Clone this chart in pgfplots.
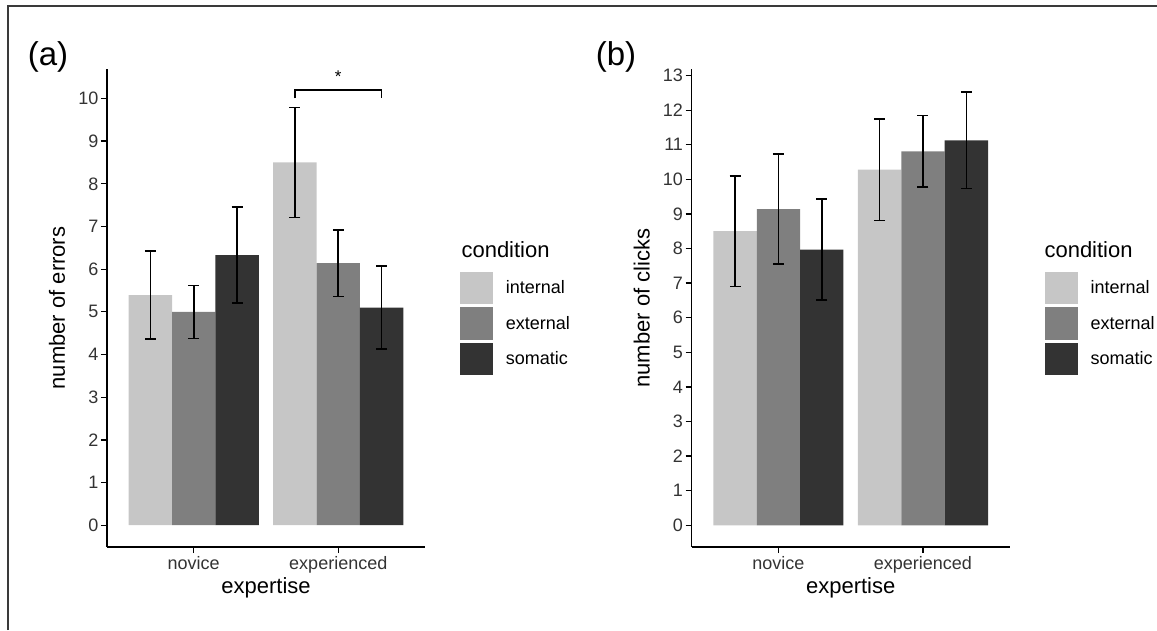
\documentclass[border=0pt]{standalone}
\usepackage{fontspec}
\setmainfont{Liberation Sans}
\usepackage{pgfplots}
\pgfplotsset{compat=1.18}
\definecolor{cInt}{HTML}{C6C6C6}
\definecolor{cExt}{HTML}{7F7F7F}
\definecolor{cSom}{HTML}{333333}
\definecolor{tickgray}{HTML}{333333}
\definecolor{framegray}{HTML}{3A3A3A}

\pgfplotsset{
 sq/.style={legend image code/.code={\fill[##1] (0pt,-16.2pt) rectangle (32.6pt,16.2pt);}},
 panel/.style={
   scale only axis, width=318pt, height=478pt, anchor=south west,
   ybar=0pt, bar width=0.3,
   xmin=0.4, xmax=2.6, xtick={1,2}, xticklabels={novice,experienced},
   axis x line*=bottom, axis y line*=left,
   axis line style={-, line width=1.3pt, black},
   tick align=outside, major tick length=6pt,
   tick style={line width=1.3pt, black},
   minor tick num=0,
   ticklabel style={font=\fontsize{18}{18}\selectfont, text=tickgray},
   yticklabel style={inner sep=2.5pt},
   xticklabel style={inner sep=3pt},
   /pgf/number format/assume math mode=true,
   label style={font=\fontsize{22}{22}\selectfont},
   xlabel={expertise},
   xlabel style={at={(axis description cs:0.5,-0.0858)}, anchor=center},
   ylabel style={at={(axis description cs:-0.157,0.5)}, anchor=center},
   clip=false,
   legend style={at={(axis description cs:1.111,0.576)}, anchor=north west,
     draw=none, fill=none, inner sep=0pt, row sep=3pt,
     font=\fontsize{18}{18}\selectfont, nodes={inner sep=0pt},
     /tikz/every odd column/.append style={column sep=12.7pt}},
   legend cell align=left,
   every axis plot/.append style={draw=none, sq,
     error bars/y dir=both, error bars/y explicit,
     error bars/error mark=|,
     error bars/error bar style={draw=black, line width=1.6pt},
     error bars/error mark options={draw=black, line width=1.6pt, mark size=5.5pt}},
 },
}

\begin{document}
\begin{tikzpicture}[x=1pt,y=1pt]
\path[use as bounding box] (0,0) rectangle (1157,630);
\draw[framegray, line width=2pt] (8,0) -- (8,624) -- (1157,624);
\node[font=\fontsize{33}{33}\selectfont] at (48,573) {(a)};
\node[font=\fontsize{33}{33}\selectfont] at (616,573) {(b)};

\begin{axis}[panel, at={(107pt,83pt)}, ymin=-0.51, ymax=10.69, ytick={0,...,10},
  ylabel={number of errors}]
\addplot[fill=cInt] coordinates {(1,5.39) +- (0,1.03) (2,8.50) +- (0,1.29)};
\addplot[fill=cExt] coordinates {(1,5.00) +- (0,0.62) (2,6.14) +- (0,0.78)};
\addplot[fill=cSom] coordinates {(1,6.33) +- (0,1.12) (2,5.10) +- (0,0.97)};
\legend{internal, external, somatic}
\draw[line width=1.3pt] (axis cs:1.7,10.0) -- (axis cs:1.7,10.2) -- (axis cs:2.3,10.2) -- (axis cs:2.3,10.0);
\node[font=\fontsize{17}{17}\selectfont, anchor=base] at (axis cs:2,10.37) {*};
\end{axis}
\node[font=\fontsize{22}{22}\selectfont, anchor=west] at (458,380) {condition};

\begin{axis}[panel, at={(691.7pt,83pt)}, ymin=-0.628, ymax=13.19, ytick={0,...,13},
  ylabel={number of clicks}]
\addplot[fill=cInt] coordinates {(1,8.50) +- (0,1.60) (2,10.28) +- (0,1.47)};
\addplot[fill=cExt] coordinates {(1,9.14) +- (0,1.59) (2,10.81) +- (0,1.03)};
\addplot[fill=cSom] coordinates {(1,7.97) +- (0,1.46) (2,11.13) +- (0,1.40)};
\legend{internal, external, somatic}
\end{axis}
\node[font=\fontsize{22}{22}\selectfont, anchor=west] at (1041,380) {condition};
\end{tikzpicture}
\end{document}
